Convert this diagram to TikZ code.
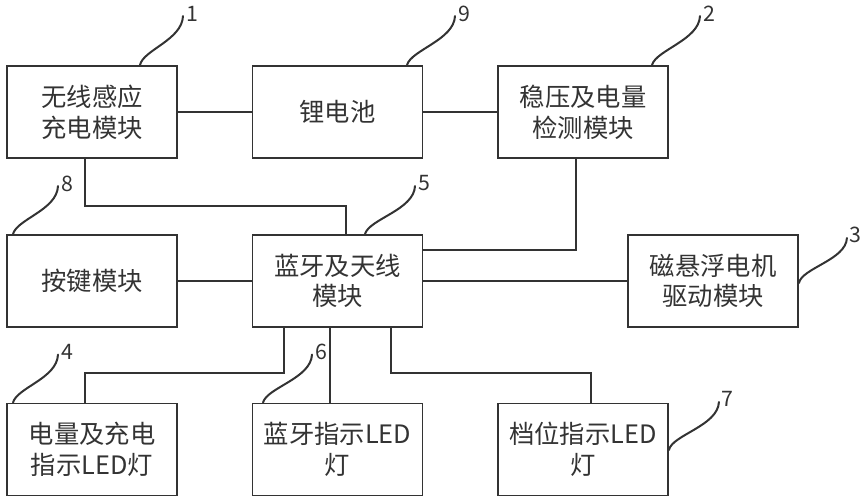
\documentclass[tikz,border=0pt]{standalone}
\usepackage{fontspec}
\setmainfont{Noto Sans CJK SC}
\usepackage{tikz}
\definecolor{inkgray}{RGB}{51,51,51}

\begin{document}
\begin{tikzpicture}[x=0.75pt,y=0.75pt,yscale=-1,xscale=1,
  module/.style={draw=inkgray, line width=1.4pt, minimum width=127.5pt, minimum height=69pt, inner sep=0pt, align=center, font=\fontsize{19}{23}\selectfont, text=inkgray},
  wire/.style={draw=inkgray, line width=1.4pt},
  leader/.style={draw=inkgray, line width=1.5pt, line cap=round},
  tag/.style={anchor=west, inner sep=0pt, xshift=1.5pt, yshift=2pt, font=\fontsize{16}{16}\selectfont, text=inkgray}]
\useasboundingbox (0,0) rectangle (864,500);

% Modules
\node[module] (charger) at (92,112) {无线感应\\充电模块};
\node[module] (battery) at (337.5,112) {锂电池};
\node[module] (regulator) at (583,112) {稳压及电量\\检测模块};
\node[module] (keys) at (92,281) {按键模块};
\node[module] (bluetooth) at (337.5,281) {蓝牙及天线\\模块};
\node[module] (motor) at (713,281) {磁悬浮电机\\驱动模块};
\node[module] (powerled) at (92,449.5) {电量及充电\\指示LED灯};
\node[module] (btled) at (337.5,449.5) {蓝牙指示LED\\灯};
\node[module] (gearled) at (583,449.5) {档位指示LED\\灯};

% Wires
\draw[wire] (charger) -- (battery);
\draw[wire] (battery) -- (regulator);
\draw[wire] (keys) -- (bluetooth);
\draw[wire] (bluetooth) -- (motor);
\coordinate (c1) at (85,206);
\coordinate (c2) at (346,206);
\draw[wire] (c1 |- charger.south) -- (c1) -- (c2) -- (c2 |- bluetooth.north);
\coordinate (r1) at (576,250);
\draw[wire] (r1 |- regulator.south) -- (r1) -- (r1 -| bluetooth.east);
\coordinate (p1) at (284,373);
\coordinate (p2) at (85,373);
\draw[wire] (p1 |- bluetooth.south) -- (p1) -- (p2) -- (p2 |- powerled.north);
\coordinate (b1) at (330,373);
\draw[wire] (b1 |- bluetooth.south) -- (b1 |- btled.north);
\coordinate (g1) at (391,373);
\coordinate (g2) at (591,373);
\draw[wire] (g1 |- bluetooth.south) -- (g1) -- (g2) -- (g2 |- gearled.north);

% Leaders and reference numbers
\draw[leader] (140,0 |- charger.north) .. controls +(3,-15) and +(-1,24) .. ++(43,-49) node[tag] (t1) {1};
\draw[leader] (407,0 |- battery.north) .. controls +(4,-15) and +(-1,24) .. ++(48,-49) node[tag] (t9) {9};
\draw[leader] (652,0 |- regulator.north) .. controls +(4,-15) and +(-1,24) .. ++(48,-49) node[tag] (t2) {2};
\draw[leader] (13,0 |- keys.north) .. controls +(4,-15) and +(-1,24) .. ++(45,-48) node[tag] (t8) {8};
\draw[leader] (365,0 |- bluetooth.north) .. controls +(4,-15) and +(-1,24) .. ++(50,-48) node[tag] (t5) {5};
\draw[leader] (motor.east |- 0,283) .. controls +(3,-15) and +(-1,22) .. ++(48,-45) node[tag] (t3) {3};
\draw[leader] (13,0 |- powerled.north) .. controls +(4,-15) and +(-1,24) .. ++(45,-48) node[tag] (t4) {4};
\draw[leader] (263,0 |- btled.north) .. controls +(4,-15) and +(-1,24) .. ++(49,-48) node[tag] (t6) {6};
\draw[leader] (gearled.east |- 0,450) .. controls +(3,-15) and +(-1,24) .. ++(50,-48) node[tag] (t7) {7};

\end{tikzpicture}
\end{document}
